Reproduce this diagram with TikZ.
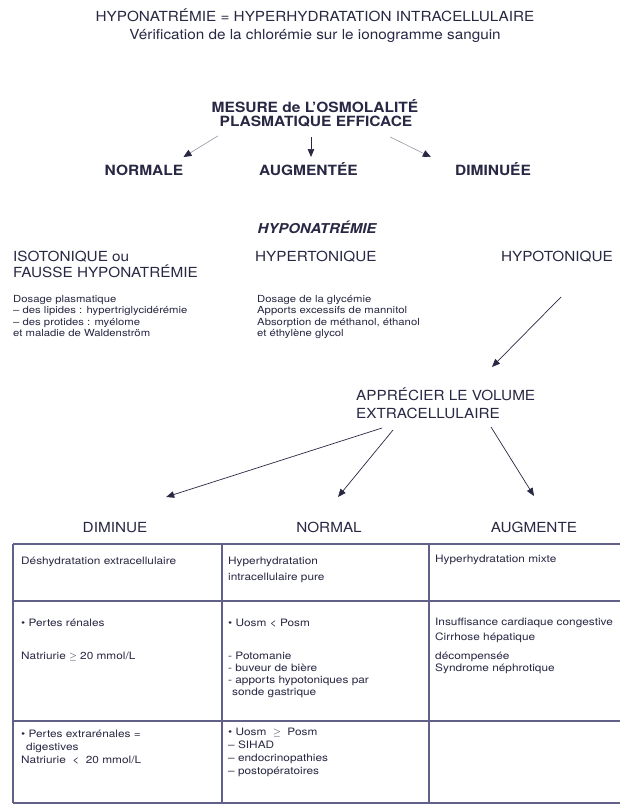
\documentclass[tikz,border=0pt]{standalone}
\usepackage{fontspec}
\setmainfont{TeX Gyre Heros}
\newfontfamily\bigfont[Ligatures=TeX,FakeStretch=1.1]{TeX Gyre Heros}
\newfontfamily\widefont[Ligatures=TeX,FakeStretch=1.16]{TeX Gyre Heros}
\usetikzlibrary{arrows.meta,positioning}
\definecolor{ink}{RGB}{40,40,68}
\definecolor{rulecol}{RGB}{96,96,136}
\definecolor{greyline}{RGB}{150,150,162}

\begin{document}
\begin{tikzpicture}[x=1pt, y=-1pt,
  every node/.style={inner sep=0pt, text=ink},
  bigtxt/.style={font=\bigfont\fontsize{13.9}{17}\selectfont},
  boldtxt/.style={font=\bigfont\fontsize{14.1}{17}\selectfont\bfseries, anchor=base},
  smalltxt/.style={font=\widefont\fontsize{9.75}{11.5}\selectfont,
                   align=left, anchor=north west},
  celltxt/.style={font=\widefont\fontsize{10.2}{12}\selectfont,
                  align=left, anchor=north west},
  arr/.style={draw=ink, line width=0.7pt, -{Triangle[length=8pt,width=6.5pt]}},
  thinarr/.style={draw=greyline, line width=0.6pt,
                  -{Triangle[length=8pt,width=7pt,color=ink]}},
  tabline/.style={draw=rulecol, line width=1.1pt}
]
\fill[white] (0,0) rectangle (620,806);
\useasboundingbox (0,0) rectangle (620,806);

% titre
\node[bigtxt, anchor=base] (titre1) at (315,21)
  {HYPONATRÉMIE = HYPERHYDRATATION INTRACELLULAIRE};
\node[bigtxt, anchor=base] (titre2) at (315,39.3)
  {Vérification de la chlorémie sur le ionogramme sanguin};

% osmolalite
\node[boldtxt] (mesure) at (315,112.6) {MESURE de L’OSMOLALITÉ};
\node[boldtxt] (plasma) at (316,126.6) {PLASMATIQUE EFFICACE};
\node[boldtxt] (normale) at (144,175.8) {NORMALE};
\node[boldtxt] (augmentee) at (308.5,175.8) {AUGMENTÉE};
\node[boldtxt] (diminuee) at (493,175.8) {DIMINUÉE};

\draw[thinarr] ([shift={(-1.7,9.4)}]plasma.base west)
  -- ([shift={(0,-18.8)}]normale.base east);
\draw[arr] ([shift={(-5,10.4)}]plasma.base)
  -- ([shift={(2.5,-18.8)}]augmentee.base);
\draw[thinarr] ([shift={(-22.3,10.4)}]plasma.base east)
  -- ([shift={(-24,-18.8)}]diminuee.base west);

% hyponatremie
\node[font=\bigfont\fontsize{13.6}{17}\selectfont\bfseries\itshape, anchor=base]
  (hypona) at (317,233) {HYPONATRÉMIE};
\node[bigtxt, anchor=base west] (isoto) at (13,261.5) {ISOTONIQUE ou};
\node[bigtxt, anchor=base west] (fausse) at (13,277) {FAUSSE HYPONATRÉMIE};
\node[bigtxt, anchor=base west] (hyperto) at (255,261.5) {HYPERTONIQUE};
\node[bigtxt, anchor=base east] (hypoto) at (613,261.5) {HYPOTONIQUE};

\node[smalltxt] (dosiso) at (13,294.9)
  {Dosage plasmatique\\
   – des lipides : hypertriglycidérémie\\
   – des protides : myélome\\
   et maladie de Waldenström};
\node[smalltxt] (doshyper) at (257,294.9)
  {Dosage de la glycémie\\
   Apports excessifs de mannitol\\
   Absorption de méthanol, éthanol\\
   et éthylène glycol};

% volume extracellulaire
\node[bigtxt, anchor=base west] (apprec) at (356,400) {APPRÉCIER LE VOLUME};
\node[bigtxt, anchor=base west] (extra) at (356,418) {EXTRACELLULAIRE};
\draw[arr] ([shift={(-52,35.5)}]hypoto.base east)
  -- ([shift={(136,-33)}]apprec.base west);

\node[bigtxt, anchor=base] (diminue) at (115,532) {DIMINUE};
\node[bigtxt, anchor=base] (normal) at (329,532) {NORMAL};
\node[bigtxt, anchor=base] (augmente) at (534,532) {AUGMENTE};

\draw[arr] ([shift={(26,10)}]extra.base west)
  -- ([shift={(18.7,-35)}]diminue.base east);
\draw[arr] ([shift={(37,12)}]extra.base west)
  -- ([shift={(9,-35)}]normal.base);
\draw[arr] ([shift={(135,9)}]extra.base west)
  -- ([shift={(0,-36)}]augmente.base);

% tableau
\draw[tabline] (13,544) -- (621,544) (13,601) -- (621,601)
  (13,721) -- (621,721) (13,803) -- (621,803);
\draw[tabline] (13,544) -- (13,803) (222,544) -- (222,803)
  (429,544) -- (429,803);

\node[celltxt] (c11) at (21,557.3) {Déshydratation extracellulaire};
\node[celltxt] (c12) at (228,557.3)
  {Hyperhydratation\\[4pt]intracellulaire pure};
\node[celltxt] (c13) at (435,555.3) {Hyperhydratation mixte};

\node[celltxt] (c21) at (21,619.3)
  {\textbullet\ Pertes rénales\\[21pt]Natriurie $\geq$ 20 mmol/L};
\node[celltxt] (c22) at (228,619.3)
  {\textbullet\ Uosm < Posm\\[21pt]
   - Potomanie\\
   - buveur de bière\\
   - apports hypotoniques par\\
   \hspace*{4pt}sonde gastrique};
\node[celltxt] (c23) at (435,618.3)
  {Insuffisance cardiaque congestive\\[3pt]
   Cirrhose hépatique\\[7pt]
   décompensée\\
   Syndrome néphrotique};

\node[celltxt] (c31) at (21,730.3)
  {\textbullet\ Pertes extrarénales =\\[1pt]
   \hspace*{5pt}digestives\\[1pt]
   Natriurie\ \ <\ \ 20 mmol/L};
\node[celltxt] (c32) at (228,727.4)
  {\textbullet\ Uosm\ \ $\geq$\ \ Posm\\[1pt]
   – SIHAD\\[1pt]
   – endocrinopathies\\[1pt]
   – postopératoires};
\end{tikzpicture}
\end{document}
